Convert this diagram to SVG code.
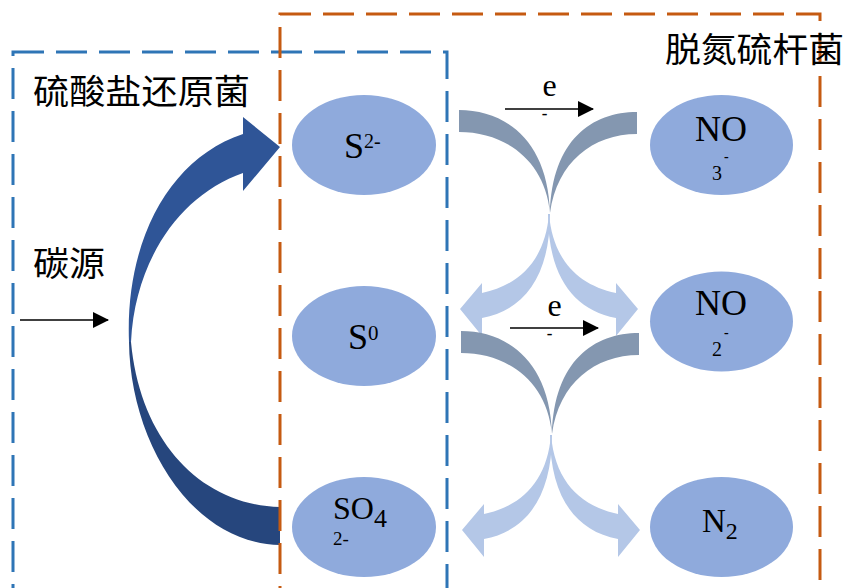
<svg xmlns="http://www.w3.org/2000/svg" width="850" height="588" viewBox="0 0 850 588">
<style>
.node ellipse{fill:#8FAADC;stroke:none}
.t{font-family:"Liberation Serif","Times New Roman",serif;fill:#000}
.cjk{font-family:"Noto Sans CJK SC","Noto Sans",sans-serif;fill:#000;font-size:34px}
.gray{fill:#8497B0}
.lb{fill:#B4C7E7}
.ln{stroke:#000;stroke-width:1.5;fill:none}
</style>
<defs>
<marker id="ah" viewBox="0 0 16 16" refX="15" refY="8" markerWidth="16" markerHeight="16" markerUnits="userSpaceOnUse" orient="auto">
<path d="M0,0 L16,8 L0,16 Z" fill="#000"/>
</marker>
</defs>

<g id="connectors">
<g id="carbon-arrow">
<path d="M129,342 C125,240 170,158 243,134 L243,117 L280,147 L243,191 L243,173 C180,195 135,260 131,342 Z" fill="#2F5597"/>
<path d="M129,342 C130,440 190,543 280,545 L280,507 C200,505 140,440 131,342 Z" fill="#26467D"/>
</g>
<g id="cross1">
<path class="gray" d="M459,110 C505,110 548,140 550,213 C545,160 505,132 459,132 Z"/>
<path class="gray" d="M637,112 C592,112 552,140 550,213 C557,162 593,134 637,134 Z"/>
<path class="lb" d="M549,214 C545,260 520,285 482,293 L482,283 L460,309 L482,336 L482,318 C525,310 550,275 550,214 Z"/>
<path class="lb" d="M549,214 C553,260 578,285 616,293 L616,283 L638,309 L616,336 L616,318 C573,310 548,275 548,214 Z"/>
</g>
<g id="cross2" transform="translate(2,221)">
<path class="gray" d="M459,110 C505,110 548,140 550,213 C545,160 505,132 459,132 Z"/>
<path class="gray" d="M637,112 C592,112 552,140 550,213 C557,162 593,134 637,134 Z"/>
<path class="lb" d="M549,214 C545,260 520,285 482,293 L482,283 L460,309 L482,336 L482,318 C525,310 550,275 550,214 Z"/>
<path class="lb" d="M549,214 C553,260 578,285 616,293 L616,283 L638,309 L616,336 L616,318 C573,310 548,275 548,214 Z"/>
</g>
<line class="ln" x1="20" y1="320" x2="108" y2="320" marker-end="url(#ah)"/>
<line class="ln" x1="505" y1="109" x2="593" y2="109" marker-end="url(#ah)"/>
<line class="ln" x1="510" y1="328" x2="598" y2="328" marker-end="url(#ah)"/>
</g>

<g id="box-srb">
<rect x="13" y="52" width="434" height="600" fill="none" stroke="#2E75B6" stroke-width="3" stroke-dasharray="31 12"/>
<text class="cjk" x="33" y="104" textLength="217" lengthAdjust="spacingAndGlyphs">硫酸盐还原菌</text>
</g>
<g id="box-tb">
<rect x="280" y="14" width="540" height="600" fill="none" stroke="#C55A11" stroke-width="3" stroke-dasharray="31 12"/>
<text class="cjk" x="665" y="62" textLength="179" lengthAdjust="spacingAndGlyphs">脱氮硫杆菌</text>
</g>
<g id="label-carbon">
<text class="cjk" x="33" y="276" textLength="72" lengthAdjust="spacingAndGlyphs">碳源</text>
</g>
<g id="label-e1">
<text class="t" x="549.5" y="96" font-size="32" text-anchor="middle">e</text>
<text class="t" x="544.5" y="119" font-size="17" font-weight="bold" text-anchor="middle">-</text>
</g>
<g id="label-e2">
<text class="t" x="554.5" y="316" font-size="32" text-anchor="middle">e</text>
<text class="t" x="549.5" y="339" font-size="17" font-weight="bold" text-anchor="middle">-</text>
</g>

<g id="node-s2" class="node">
<ellipse cx="364" cy="145" rx="72" ry="50"/>
<text class="t" x="344" y="158" font-size="36">S<tspan font-size="20" dy="-10">2-</tspan></text>
</g>
<g id="node-s0" class="node">
<ellipse cx="364" cy="336" rx="72" ry="50"/>
<text class="t" x="348" y="349" font-size="36">S<tspan font-size="21" dy="-9">0</tspan></text>
</g>
<g id="node-so4" class="node">
<ellipse cx="364" cy="527" rx="72" ry="50"/>
<text class="t" x="333" y="519" font-size="32">SO<tspan font-size="26" dy="8">4</tspan></text>
<text class="t" x="333" y="545" font-size="19">2-</text>
</g>
<g id="node-no3" class="node">
<ellipse cx="721.5" cy="145" rx="71.5" ry="50"/>
<text class="t" x="721" y="141" font-size="36" text-anchor="middle">NO</text>
<text class="t" x="712" y="180" font-size="20">3</text>
<text class="t" x="724" y="161" font-size="14" font-weight="bold">-</text>
</g>
<g id="node-no2" class="node">
<ellipse cx="721.5" cy="321.5" rx="71.5" ry="50"/>
<text class="t" x="721" y="315" font-size="36" text-anchor="middle">NO</text>
<text class="t" x="712" y="356" font-size="20">2</text>
<text class="t" x="724" y="337" font-size="14" font-weight="bold">-</text>
</g>
<g id="node-n2" class="node">
<ellipse cx="721.5" cy="527" rx="71.5" ry="50"/>
<text class="t" x="702" y="532" font-size="33">N<tspan font-size="24" dy="7">2</tspan></text>
</g>
</svg>
